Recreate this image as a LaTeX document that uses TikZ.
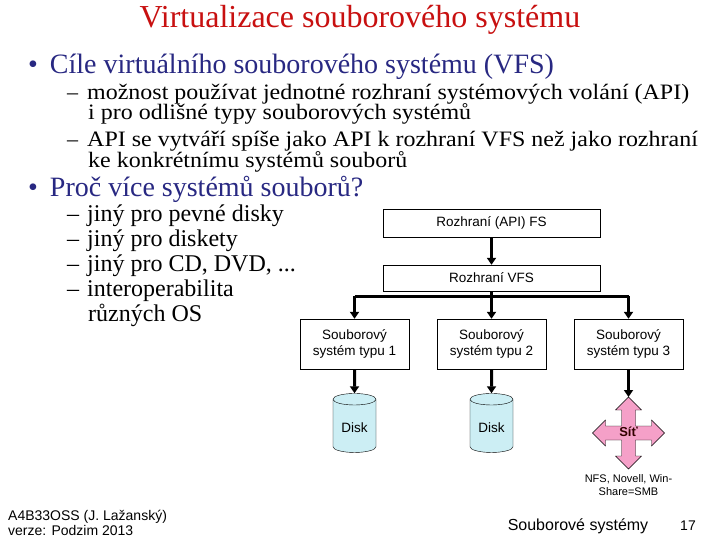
\documentclass[tikz,border=0pt]{standalone}
\usepackage{fontspec}
\setmainfont{Liberation Serif}
\newfontfamily\boxfont{Liberation Sans}
\usetikzlibrary{shapes.geometric,arrows.meta,calc}
\definecolor{titlered}{RGB}{200,16,16}
\definecolor{bulletblue}{RGB}{40,40,130}
\definecolor{diskcyan}{RGB}{204,238,244}
\definecolor{netpink}{RGB}{245,160,200}
\newcommand{\subfont}{\fontsize{22}{24}\selectfont}
\newcommand{\cond}[1]{\scalebox{1.09}[1]{#1}}
\tikzset{
  fsbox/.style={draw,fill=white,font=\boxfont\fontsize{13.5}{15.5}\selectfont,align=center,inner sep=0pt},
  link/.style={line width=3pt,-{Triangle[length=7pt,width=9pt]}},
  disk/.style={cylinder,shape border rotate=90,aspect=0.35,draw,fill=diskcyan,minimum width=43pt,minimum height=59pt,font=\boxfont\fontsize{13.5}{15.5}\selectfont},
  txt/.style={anchor=west,inner sep=0pt}
}
\begin{document}
\begin{tikzpicture}[x=1pt,y=-1pt]
\useasboundingbox[fill=white](0,0)rectangle(720,540);
%title and text
\node[titlered,font=\fontsize{32}{34}\selectfont] (title) at (360,20) {Virtualizace souborového systému};
\node[txt,bulletblue,font=\fontsize{28}{30}\selectfont] (b1) at (28,67) {\textbullet\hspace{12pt}Cíle virtuálního souborového systému (VFS)};
\begin{scope}[font=\subfont]
\node[txt] (s1) at (67,94) {–\hspace{9pt}\cond{možnost používat jednotné rozhraní systémových volání (API)}};
\node[txt] (s1b) at (88,114) {\cond{i pro odlišné typy souborových systémů}};
\node[txt] (s2) at (67,141) {–\hspace{9pt}\cond{API se vytváří spíše jako API k rozhraní VFS než jako rozhraní}};
\node[txt] (s2b) at (88,162) {\cond{ke konkrétnímu systémů souborů}};
\end{scope}
\node[txt,bulletblue,font=\fontsize{28}{30}\selectfont] (b2) at (28,189) {\textbullet\hspace{12pt}Proč více systémů souborů?};
\begin{scope}[font=\fontsize{24}{26}\selectfont]
\node[txt] (r1) at (67,216) {–\hspace{8pt}jiný pro pevné disky};
\node[txt] (r2) at (67,241) {–\hspace{8pt}jiný pro diskety};
\node[txt] (r3) at (67,266) {–\hspace{8pt}jiný pro CD, DVD, ...};
\node[txt] (r4) at (67,291) {–\hspace{8pt}interoperabilita};
\node[txt] (r4b) at (88,315) {různých OS};
\end{scope}
%diagram
\node[fsbox,minimum width=217pt,minimum height=28pt] (api) at (491.5,223) {Rozhraní (API) FS};
\node[fsbox,minimum width=217pt,minimum height=26pt] (vfs) at (491.5,278) {Rozhraní VFS};
\node[fsbox,minimum width=109pt,minimum height=50pt] (fs1) at (354.5,344) {Souborový\\systém typu 1};
\node[fsbox,minimum width=109pt,minimum height=50pt] (fs2) at (491.5,344) {Souborový\\systém typu 2};
\node[fsbox,minimum width=109pt,minimum height=50pt] (fs3) at (628.5,344) {Souborový\\systém typu 3};
\node[disk] (d1) at (354.5,427.5) {Disk};
\node[disk] (d2) at (491.5,427.5) {Disk};
%network cross
\coordinate (net) at (628.5,432);
\coordinate (nettop) at ($(net)+(0,-35)$);
\draw[fill=netpink] (nettop) -- ++(13,13) -- ++(-6,0) -- ++(0,16) -- ++(16,0) -- ++(0,-6) -- ++(13,13)
  -- ++(-13,13) -- ++(0,-6) -- ++(-16,0) -- ++(0,16) -- ++(6,0) -- ++(-13,13) -- ++(-13,-13) -- ++(6,0) -- ++(0,-16)
  -- ++(-16,0) -- ++(0,6) -- ++(-13,-13) -- ++(13,-13) -- ++(0,6) -- ++(16,0) -- ++(0,-16) -- ++(-6,0) -- cycle;
\node[font=\boxfont\bfseries\fontsize{13}{15}\selectfont,text=black!80!red] (sit) at (net) {Síť};
\node[font=\boxfont\fontsize{11}{13}\selectfont,align=center] (netlbl) at (628.5,485) {NFS, Novell, Win-\\Share=SMB};
%connectors
\coordinate (split) at ($(vfs.south)+(0,5)$);
\draw[link] (api) -- (vfs);
\draw[link] (vfs) -- (fs2);
\draw[line width=3pt] (split -| fs1.north) -- (split -| fs3.north);
\draw[link] (split -| fs1.north) -- (fs1);
\draw[link] (split -| fs3.north) -- (fs3);
\draw[link] (fs1) -- (d1);
\draw[link] (fs2) -- (d2);
\draw[link] (fs3) -- (nettop);
%footer
\node[font=\boxfont\fontsize{14}{15}\selectfont,align=left,anchor=north west,inner sep=0pt] (foot) at (8,510) {A4B33OSS (J. Lažanský)\\verze: Podzim 2013};
\node[font=\boxfont\fontsize{16}{18}\selectfont] (topic) at (578,526) {Souborové systémy};
\node[font=\boxfont\fontsize{14}{16}\selectfont] (page) at (688,526) {17};
\end{tikzpicture}
\end{document}
